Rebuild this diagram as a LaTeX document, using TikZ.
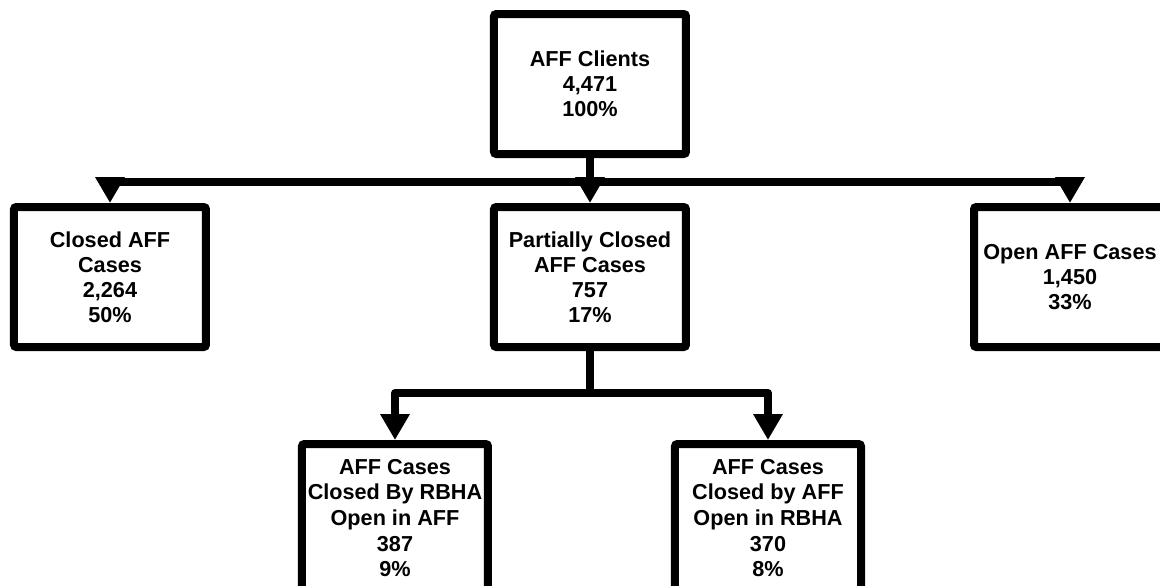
\documentclass[tikz,border=0pt]{standalone}
\usepackage{fontspec}
\setmainfont{Liberation Sans}
\usetikzlibrary{positioning,arrows.meta}

\begin{document}
\begin{tikzpicture}[
  >={Triangle[length=6.5mm, width=7mm]},
  node distance=11.25mm and 70mm,
  box/.style={draw, line width=2mm, rounded corners=0.6mm, align=center,
              minimum width=48mm, minimum height=35mm, inner sep=1pt,
              font=\fontsize{15.4}{17.8}\selectfont\bfseries},
  subbox/.style={box, minimum width=46.5mm, minimum height=37mm,
                 font=\fontsize{15.4}{18.3}\selectfont\bfseries},
  link/.style={line width=2mm, line join=round},
  rel/.style={link, ->}
]
\useasboundingbox (-14.75,2.1) rectangle (14.25,-12.525);
\clip (-14.75,2.1) rectangle (14.25,-12.525);

\node[box] (clients) {AFF Clients\\4,471\\100\%};
\node[box, below=of clients]  (partial) {Partially Closed\\AFF Cases\\757\\17\%};
\node[box, left=of partial]   (closed)  {Closed AFF\\Cases\\2,264\\50\%};
\node[box, right=of partial]  (open)    {Open AFF Cases\\1,450\\33\%};
\node[subbox, below=22.25mm of partial, xshift=-48.75mm] (byrbha) {AFF Cases\\Closed By RBHA\\Open in AFF\\387\\9\%};
\node[subbox, below=22.25mm of partial, xshift=44.5mm]   (byaff)  {AFF Cases\\Closed by AFF\\Open in RBHA\\370\\8\%};

\coordinate[below=6mm of clients]    (fork);
\coordinate[below=10.5mm of partial] (subfork);

\draw[link] (clients) -- (fork);
\draw[rel]  (fork) -| (closed);
\draw[rel]  (fork) -- (partial);
\draw[rel]  (fork) -| (open);
\draw[link] (partial) -- (subfork);
\draw[rel]  (subfork) -| (byrbha);
\draw[rel]  (subfork) -| (byaff);
\end{tikzpicture}
\end{document}
